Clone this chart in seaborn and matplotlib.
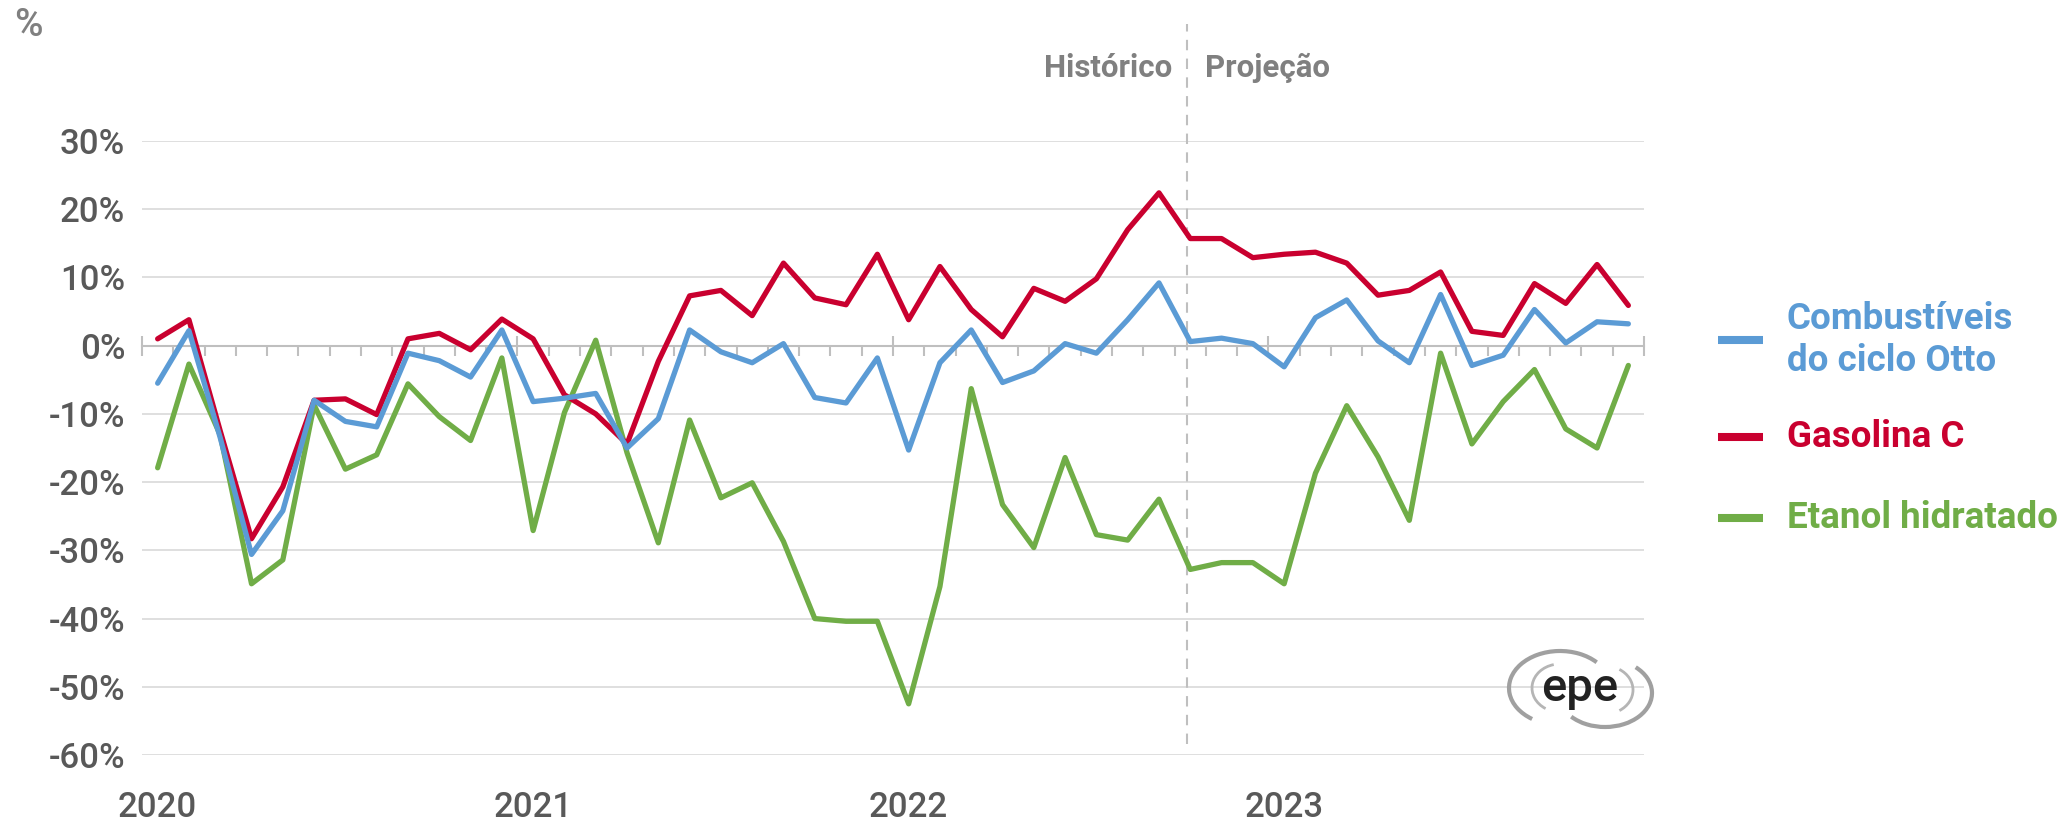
import numpy as np
import pandas as pd
import matplotlib.pyplot as plt
import seaborn as sns
from matplotlib.patches import Arc
from matplotlib.lines import Line2D

# Variação mensal (%) - jan/2020 a dez/2023
meses = pd.date_range('2020-01-01', '2023-12-01', freq='MS')

otto = [-5.5, 2.2, -13.5, -30.6, -24.2, -8.0, -11.1, -11.9, -1.1, -2.2, -4.6, 2.3,
        -8.2, -7.7, -7.0, -15.0, -10.7, 2.3, -0.9, -2.5, 0.3, -7.6, -8.4, -1.8,
        -15.3, -2.5, 2.3, -5.4, -3.7, 0.3, -1.1, 3.8, 9.2, 0.6, 1.1, 0.3,
        -3.1, 4.1, 6.7, 0.7, -2.5, 7.5, -2.9, -1.4, 5.3, 0.4, 3.5, 3.2]

gasolina = [1.0, 3.8, -12.5, -28.3, -20.7, -8.0, -7.8, -10.1, 1.0, 1.8, -0.6, 3.9,
            1.0, -7.2, -10.0, -14.4, -2.3, 7.3, 8.1, 4.4, 12.1, 7.0, 6.0, 13.4,
            3.8, 11.6, 5.3, 1.3, 8.4, 6.5, 9.8, 17.0, 22.4, 15.7, 15.7, 12.9,
            13.4, 13.7, 12.1, 7.4, 8.1, 10.8, 2.1, 1.5, 9.1, 6.2, 11.9, 5.9]

etanol = [-17.9, -2.7, -13.1, -34.9, -31.4, -8.7, -18.1, -16.0, -5.6, -10.4, -13.9, -1.8,
          -27.1, -9.8, 0.8, -15.7, -28.9, -10.9, -22.3, -20.1, -28.7, -40.0, -40.4, -40.4,
          -52.5, -35.3, -6.3, -23.3, -29.6, -16.4, -27.7, -28.5, -22.5, -32.8, -31.8, -31.8,
          -34.9, -18.7, -8.8, -16.3, -25.6, -1.1, -14.4, -8.2, -3.5, -12.2, -15.0, -2.9]

series = ['Combustíveis\ndo ciclo Otto', 'Gasolina C', 'Etanol hidratado']
cores = ['#5B9BD5', '#C9002F', '#70AD47']
anos = ['2020', '2021', '2022', '2023']
y_ticks = [30, 20, 10, 0, -10, -20, -30, -40, -50, -60]
y_labels = [f'{v}%' for v in y_ticks]
corte = 32.88  # separação histórico / projeção (out/2022)

pos = np.arange(len(meses))
df = pd.concat([
    pd.DataFrame({'pos': pos, 'valor': otto, 'serie': series[0]}),
    pd.DataFrame({'pos': pos, 'valor': gasolina, 'serie': series[1]}),
    pd.DataFrame({'pos': pos, 'valor': etanol, 'serie': series[2]}),
])

sns.set_theme(style='white')
plt.rcParams['font.family'] = ['Roboto', 'DejaVu Sans']

cinza_txt = '#595959'
cinza_eixo = '#BFBFBF'

fig = plt.figure(figsize=(20.65, 8.22), dpi=100)
ax = fig.add_axes([142 / 2065, 67 / 822, 1502 / 2065, 614 / 822])

sns.lineplot(data=df, x='pos', y='valor', hue='serie',
             hue_order=[series[2], series[1], series[0]],
             palette={s: c for s, c in zip(series, cores)},
             linewidth=3.8, legend=False, ax=ax, zorder=3)

ax.set_xlim(-0.5, len(meses) - 0.5)
ax.set_ylim(-60, 30)
ax.set_xlabel('')
ax.set_ylabel('')

ax.set_yticks(y_ticks)
ax.set_yticklabels(y_labels, fontweight='medium')
ax.tick_params(axis='y', length=0, pad=12, labelsize=25, labelcolor=cinza_txt)
ax.yaxis.grid(True, color='#D9D9D9', linewidth=1.2)
ax.xaxis.grid(False)

for s in ['left', 'right', 'top']:
    ax.spines[s].set_visible(False)
ax.spines['bottom'].set_position(('data', 0))
ax.spines['bottom'].set_color(cinza_eixo)
ax.spines['bottom'].set_linewidth(1.5)
ax.spines['bottom'].set_zorder(2)

ax.set_xticks(np.arange(-0.5, len(meses), 12))
ax.set_xticks(np.arange(-0.5, len(meses), 1), minor=True)
ax.tick_params(axis='x', which='major', direction='inout', length=15, width=1.5,
               color=cinza_eixo, labelbottom=False, bottom=True)
ax.tick_params(axis='x', which='minor', direction='out', length=7, width=1.5,
               color=cinza_eixo, bottom=True)

sec = ax.secondary_xaxis('bottom')
sec.set_xticks(pos[::12], labels=anos, fontweight='medium')
sec.tick_params(length=0, pad=26, labelsize=25, labelcolor=cinza_txt)
sec.spines['bottom'].set_visible(False)

# linha histórico / projeção
ax.axvline(corte, ymin=0.018, ymax=1.19, clip_on=False, color=cinza_eixo,
           linewidth=1.5, dashes=(5, 4), zorder=1)
ax.text(corte - 0.45, 1.104, 'Histórico', transform=ax.get_xaxis_transform(),
        ha='right', va='baseline', fontsize=22.5, fontweight='bold', color='#808080')
ax.text(corte + 0.6, 1.104, 'Projeção', transform=ax.get_xaxis_transform(),
        ha='left', va='baseline', fontsize=22.5, fontweight='bold', color='#808080')

fig.text(14 / 2065, 1 - 26 / 822, '%', ha='left', va='center',
         fontsize=28, fontweight='medium', color='#808080')

# legenda
leg_y = [340, 437, 518]
for nome, cor, y in zip(series, cores, leg_y):
    fig.add_artist(Line2D([1718 / 2065, 1763 / 2065], [1 - y / 822] * 2,
                          transform=fig.transFigure, color=cor, linewidth=5.8,
                          solid_capstyle='butt'))
    fig.text(1787 / 2065, 1 - y / 822, nome, ha='left', va='center',
             fontsize=26.5, fontweight='bold', color=cor, linespacing=1.2)

# logotipo epe
lg = fig.add_axes([1500 / 2065, 87 / 822, 160 / 2065, 95 / 822])
lg.set_xlim(1500, 1660)
lg.set_ylim(87, 182)
lg.axis('off')
lg.add_patch(Arc((1560, 134), 102, 74, theta1=35, theta2=228, color='#a0a0a0', lw=3))
lg.add_patch(Arc((1560, 134), 56, 48, theta1=105, theta2=235, color='#b5b5b5', lw=2))
lg.add_patch(Arc((1605, 129), 94, 68, theta1=215, theta2=400, color='#a0a0a0', lw=3))
lg.add_patch(Arc((1605, 132), 56, 48, theta1=-55, theta2=55, color='#b5b5b5', lw=2))
lg.text(1580, 134, 'epe', ha='center', va='center', fontsize=34, fontweight='medium',
        color='#222222', family=['Roboto', 'DejaVu Sans'])

fig.savefig('out.png', dpi=100)
